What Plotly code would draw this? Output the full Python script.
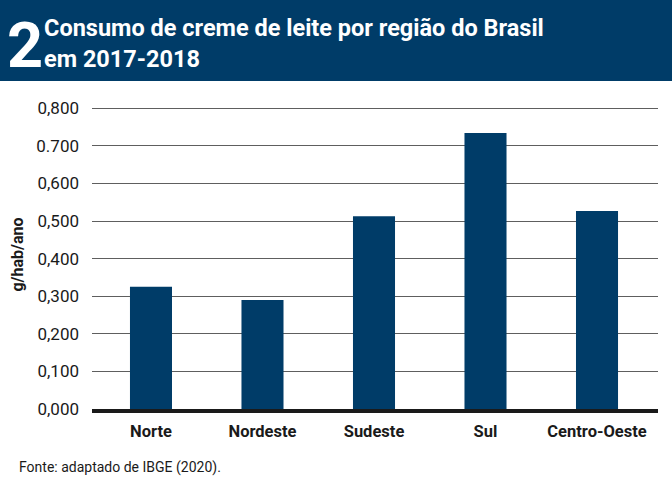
import plotly.graph_objects as go

# dados
regioes = ["Norte", "Nordeste", "Sudeste", "Sul", "Centro-Oeste"]
consumo = [0.325, 0.290, 0.513, 0.734, 0.527]
tick_vals = [0.0, 0.1, 0.2, 0.3, 0.4, 0.5, 0.6, 0.7, 0.8]
tick_text = ["0,000", "0,100", "0,200", "0,300", "0,400", "0,500", "0,600", "0.700", "0,800"]

W, H = 672, 482
L, R, T, B = 92, 14, 100, 73
AZUL = "#003c68"
FONTE = "Roboto, sans-serif"


def px_x(x):
    return (x - L) / (W - L - R)


def px_y(y):
    return (H - B - y) / (H - T - B)


fig = go.Figure()
fig.add_trace(go.Bar(
    x=regioes, y=consumo, width=0.377,
    marker=dict(color=AZUL, line=dict(width=0)),
    hoverinfo="x+y",
))

fig.update_layout(
    width=W, height=H,
    margin=dict(l=L, r=R, t=T, b=B),
    paper_bgcolor="white", plot_bgcolor="white",
    showlegend=False,
    font=dict(family=FONTE, color="#1a1a1a"),
    xaxis=dict(
        range=[-0.529, 4.547],
        showgrid=False, zeroline=False,
        showline=True, linecolor="#1a1a1a", linewidth=4,
        ticks="", ticklabelstandoff=4,
        tickfont=dict(size=16.5, color="#1a1a1a", weight="bold"),
    ),
    yaxis=dict(
        range=[0, 0.822],
        tickvals=tick_vals, ticktext=tick_text,
        showgrid=True, gridcolor="#5e5e5e", gridwidth=1.3,
        zeroline=False, showline=False, ticks="",
        ticklabelstandoff=12,
        tickfont=dict(size=17, color="#1a1a1a"),
        title=dict(text="g/hab/ano", standoff=8,
                   font=dict(size=16, color="#1a1a1a", weight="bold")),
    ),
)

# faixa do título
fig.add_shape(type="rect", xref="paper", yref="paper",
              x0=px_x(0), x1=px_x(W), y0=px_y(81), y1=px_y(0),
              fillcolor=AZUL, line=dict(width=0), layer="below")

fig.add_annotation(xref="paper", yref="paper", x=px_x(5), y=px_y(45),
                   text="<b>2</b>", showarrow=False, xanchor="left", yanchor="middle",
                   font=dict(size=63, color="white", family=FONTE))
fig.add_annotation(xref="paper", yref="paper", x=px_x(42), y=px_y(43),
                   text="<b>Consumo de creme de leite por região do Brasil<br>em 2017-2018</b>",
                   showarrow=False, xanchor="left", yanchor="middle", align="left",
                   font=dict(size=23.5, color="white", family=FONTE))

fig.add_annotation(xref="paper", yref="paper", x=px_x(17), y=px_y(467),
                   text="Fonte: adaptado de IBGE (2020).", showarrow=False,
                   xanchor="left", yanchor="middle",
                   font=dict(size=14, color="#1a1a1a", family=FONTE))

fig.write_html("out.html", config={"displayModeBar": False},
               post_script="document.body.style.margin='0';")
